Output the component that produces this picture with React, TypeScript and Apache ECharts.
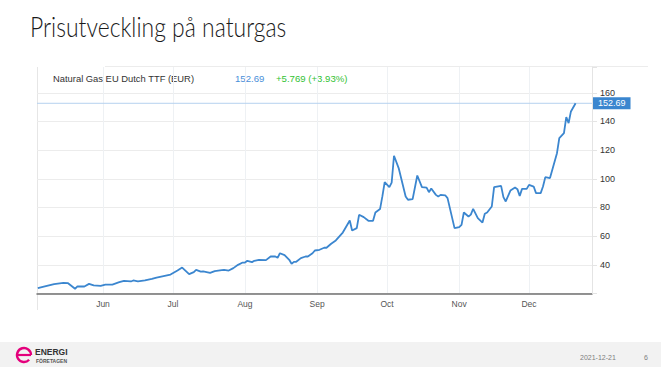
import React, { useEffect, useRef } from "react";
import * as echarts from "echarts";

const dates = [
  "05-04","05-07","05-11","05-15","05-17","05-20","05-21","05-24","05-26","05-28","05-31",
  "06-02","06-05","06-08","06-10","06-13","06-14","06-16","06-19","06-22","06-24","06-28","06-30",
  "07-03","07-05","07-08","07-10","07-11","07-13","07-14","07-17","07-19","07-22","07-23","07-25","07-27","07-29","07-31",
  "08-01","08-02","08-04","08-05","08-07","08-10","08-12","08-14","08-15","08-16","08-18","08-20","08-21","08-22","08-23","08-25","08-27","08-28","08-30","08-31",
  "09-02","09-04","09-05","09-07","09-09","09-12","09-15","09-16","09-18","09-19","09-21","09-23","09-25","09-26","09-28","09-29","09-30",
  "10-02","10-03","10-04","10-06","10-09","10-10","10-12","10-14","10-16","10-18","10-19","10-20","10-22","10-23","10-24","10-26","10-27","10-30",
  "11-01","11-02","11-03","11-05","11-06","11-07","11-09","11-11","11-12","11-13","11-15","11-16","11-19","11-20","11-21","11-23","11-25","11-26","11-27","11-28","11-30",
  "12-01","12-03","12-04","12-06","12-07","12-08","12-10","12-11","12-13","12-14","12-16","12-17","12-18","12-19","12-21"
];

const prices = [
  23.7,24.9,26.5,27.4,27.2,23.3,24.9,24.9,26.7,25.6,25.3,
  26.2,26.2,27.9,28.8,28.4,29.1,28.4,29.1,30.2,31.1,32.5,33.2,
  36.0,38.1,33.5,34.9,36.5,35.3,35.5,34.4,35.6,36.3,36.5,36.0,37.7,40.0,41.6,
  41.6,42.8,41.9,42.8,43.5,43.3,45.8,45.8,44.9,48.1,46.8,43.5,40.7,42.1,42.1,44.7,45.8,45.8,48.1,50.0,
  50.5,51.9,51.9,54.7,57.0,62.5,70.9,63.9,65.6,74.9,73.3,70.7,70.7,76.5,78.9,87.7,97.7,
  94.2,97.4,116.1,107.5,87.7,85.4,85.8,102.3,94.2,93.9,90.7,93.2,88.8,87.7,88.8,88.5,86.5,65.6,
  66.3,67.9,76.5,73.7,75.0,79.1,72.6,69.5,75.6,76.5,80.7,94.2,95.1,87.2,84.2,91.8,93.9,92.8,88.1,93.0,93.0,
  95.8,94.6,90.0,90.0,94.6,101.2,100.5,106.3,117.9,128.4,131.9,143.1,138.9,147.0,152.69
];

const monthStarts = ["06-01", "07-01", "08-01", "09-01", "10-01", "11-01", "12-01"];
const monthLabels = ["Jun", "Jul", "Aug", "Sep", "Oct", "Nov", "Dec"];
const yTickLabels = [40, 60, 80, 100, 120, 140, 160];
const lastPrice = 152.69;
const changeText = "+5.769 (+3.93%)";
const xMin = 123.65;
const xMax = 362.05;

function dayOfYear(md: string): number {
  const [m, d] = md.split("-").map(Number);
  return (Date.UTC(2021, m - 1, d) - Date.UTC(2021, 0, 1)) / 86400000 + 1;
}

export default function App() {
  const ref = useRef<HTMLDivElement>(null);
  useEffect(() => {
    if (!ref.current) return;
    const chart = echarts.init(ref.current, null, { renderer: "svg" });
    const monthDays = monthStarts.map(dayOfYear);
    const data = dates.map((d, i) => [dayOfYear(d), prices[i]]);
    const sans = '"Liberation Sans", Arial, sans-serif';

    chart.setOption({
      animation: false,
      backgroundColor: "#ffffff",
      grid: { left: 37, right: 69, top: 67, bottom: 73.5, containLabel: false },
      xAxis: {
        type: "value",
        min: xMin,
        max: xMax,
        axisLine: { show: true, lineStyle: { color: "#707070", width: 1.5 } },
        axisTick: { show: false, customValues: monthDays },
        axisLabel: {
          customValues: monthDays,
          formatter: (v: number) => {
            const i = monthDays.indexOf(Math.round(v));
            return i >= 0 ? monthLabels[i] : "";
          },
          fontSize: 8.5,
          fontFamily: sans,
          color: "#555555",
          margin: 6,
        },
        splitLine: { show: true, lineStyle: { color: "#eef1f4", width: 1 } },
      },
      yAxis: {
        type: "value",
        position: "right",
        min: 20,
        max: 178,
        interval: 20,
        axisLine: { show: true, lineStyle: { color: "#e4e4e4" } },
        axisTick: { show: true, length: 5, lineStyle: { color: "#e4e4e4" } },
        axisLabel: {
          fontSize: 9,
          fontFamily: sans,
          color: "#333333",
          margin: 8,
          formatter: (v: number) => (yTickLabels.indexOf(v) >= 0 ? String(v) : ""),
        },
        splitLine: { show: true, showMaxLine: false, lineStyle: { color: "#ececec", width: 1 } },
      },
      series: [
        {
          type: "line",
          z: 1,
          silent: true,
          data: [[xMin, lastPrice], [xMax, lastPrice]],
          showSymbol: false,
          symbol: "none",
          lineStyle: { color: "#b5d1ef", width: 1, type: "solid" },
          emphasis: { disabled: true },
          endLabel: {
            show: true,
            distance: 1,
            formatter: () => lastPrice.toFixed(2),
            color: "#ffffff",
            backgroundColor: "#3a86cf",
            padding: [2, 5, 1, 5],
            fontSize: 9,
            fontFamily: sans,
          },
        },
        {
          type: "line",
          z: 3,
          data,
          showSymbol: false,
          symbol: "none",
          lineStyle: { color: "#3b86cf", width: 1.8 },
        },
      ],
      graphic: [
        {
          type: "text",
          x: 30,
          y: 13,
          scaleX: 0.85,
          style: {
            text: "Prisutveckling på naturgas",
            fontSize: 27,
            fontWeight: 300,
            fontFamily: "Lato, sans-serif",
            fill: "#1a1a1a",
            verticalAlign: "top",
          },
        },
        { type: "line", shape: { x1: 37.5, y1: 67, x2: 37.5, y2: 310 }, style: { stroke: "#e6e6e6", lineWidth: 1 } },
        { type: "line", shape: { x1: 105, y1: 66.5, x2: 648, y2: 66.5 }, style: { stroke: "#ececec", lineWidth: 1 } },
        {
          type: "text",
          x: 53,
          y: 78,
          style: { text: "Natural Gas EU Dutch TTF (EUR)", fontSize: 9.4, fontFamily: sans, fill: "#333333", verticalAlign: "middle" },
        },
        {
          type: "text",
          x: 235,
          y: 78,
          style: { text: lastPrice.toFixed(2), fontSize: 9.6, fontFamily: sans, fill: "#4a90d9", verticalAlign: "middle" },
        },
        {
          type: "text",
          x: 276,
          y: 78,
          style: { text: changeText, fontSize: 9.6, fontFamily: sans, fill: "#33c233", verticalAlign: "middle" },
        },
        { type: "rect", shape: { x: 0, y: 342, width: 661, height: 25 }, style: { fill: "#f2f2f2" } },
        {
          type: "arc",
          shape: { cx: 24, cy: 355, r: 7, startAngle: 0.75, endAngle: Math.PI * 2, clockwise: true },
          style: { stroke: "#e4007c", lineWidth: 2.4, fill: "none" },
        },
        { type: "line", shape: { x1: 17, y1: 355, x2: 31, y2: 355 }, style: { stroke: "#e4007c", lineWidth: 2.2 } },
        {
          type: "text",
          x: 35,
          y: 352,
          style: { text: "ENERGI", fontSize: 8.5, fontWeight: "bold", fontFamily: sans, fill: "#333333", verticalAlign: "middle" },
        },
        {
          type: "text",
          x: 36,
          y: 361,
          style: { text: "FÖRETAGEN", fontSize: 5, fontWeight: "bold", fontFamily: sans, fill: "#555555", verticalAlign: "middle" },
        },
        {
          type: "text",
          x: 580,
          y: 357,
          style: { text: "2021-12-21", fontSize: 7, fontFamily: sans, fill: "#7f7f7f", verticalAlign: "middle" },
        },
        {
          type: "text",
          x: 644,
          y: 357,
          style: { text: "6", fontSize: 7, fontFamily: sans, fill: "#7f7f7f", verticalAlign: "middle" },
        },
      ],
    });
    return () => chart.dispose();
  }, []);

  return (
    <div
      ref={ref}
      style={{ position: "fixed", left: 0, top: 0, width: 661, height: 367 }}
    />
  );
}
